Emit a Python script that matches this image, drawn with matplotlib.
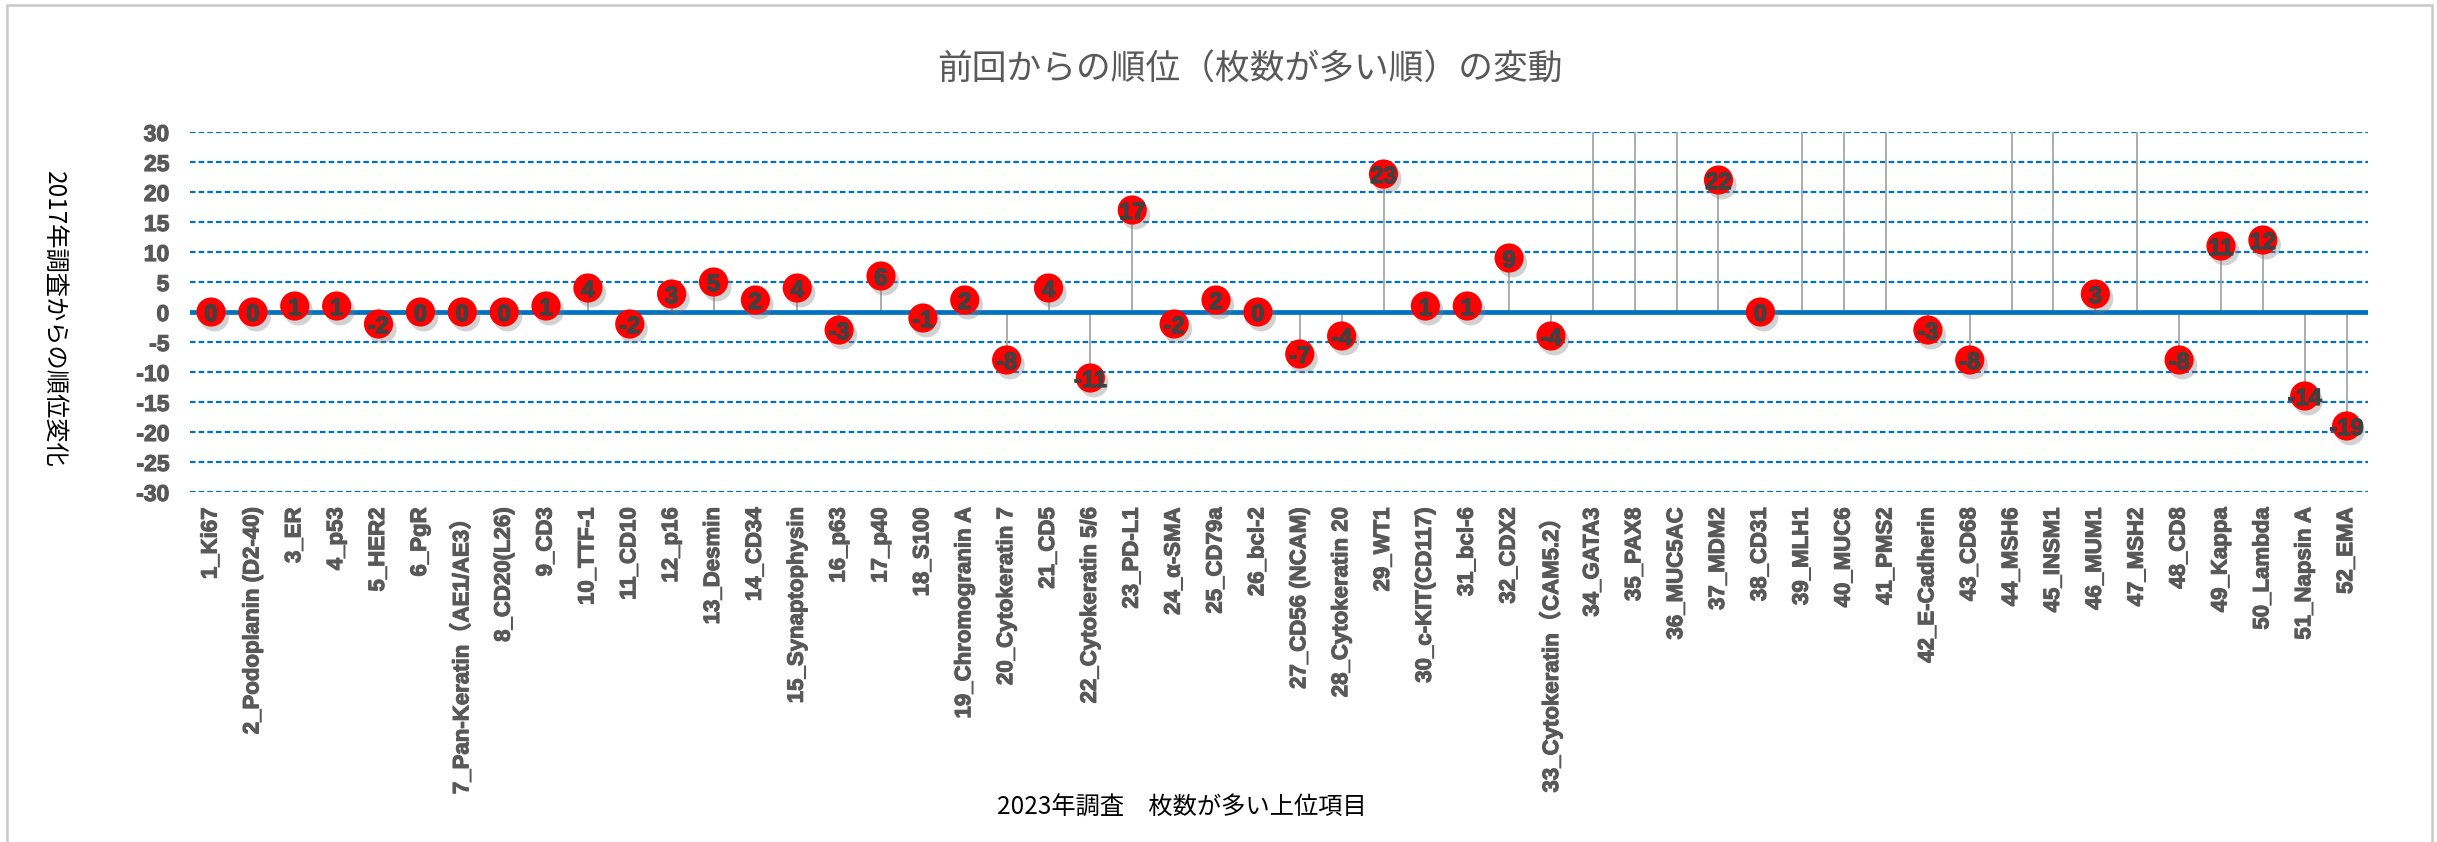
import matplotlib
matplotlib.use("Agg")
import matplotlib.pyplot as plt
import matplotlib.patheffects as pe
from matplotlib.patches import Rectangle

plt.rcParams['font.family'] = ['Liberation Sans', 'Noto Sans CJK JP', 'DejaVu Sans']

# 2023 top items and rank change vs 2017 (None = not in 2017 survey)
items = [
    "1_Ki67", "2_Podoplanin (D2-40)", "3_ER", "4_p53", "5_HER2", "6_PgR",
    "7_Pan-Keratin（AE1/AE3）", "8_CD20(L26)", "9_CD3", "10_TTF-1", "11_CD10",
    "12_p16", "13_Desmin", "14_CD34", "15_Synaptophysin", "16_p63", "17_p40",
    "18_S100", "19_Chromogranin A", "20_Cytokeratin 7", "21_CD5",
    "22_Cytokeratin 5/6", "23_PD-L1", "24_α-SMA", "25_CD79a", "26_bcl-2",
    "27_CD56 (NCAM)", "28_Cytokeratin 20", "29_WT1", "30_c-KIT(CD117)",
    "31_bcl-6", "32_CDX2", "33_Cytokeratin（CAM5.2）", "34_GATA3", "35_PAX8",
    "36_MUC5AC", "37_MDM2", "38_CD31", "39_MLH1", "40_MUC6", "41_PMS2",
    "42_E-Cadherin", "43_CD68", "44_MSH6", "45_INSM1", "46_MUM1", "47_MSH2",
    "48_CD8", "49_Kappa", "50_Lambda", "51_Napsin A", "52_EMA",
]
rank_change = [
    0, 0, 1, 1, -2, 0, 0, 0, 1, 4, -2, 3, 5, 2, 4, -3, 6, -1, 2, -8, 4, -11,
    17, -2, 2, 0, -7, -4, 23, 1, 1, 9, -4, None, None, None, 22, 0, None, None,
    None, -3, -8, None, None, 3, None, -8, 11, 12, -14, -19,
]
yticks = list(range(-30, 31, 5))

blue = '#0070C0'
gray = '#595959'

fig = plt.figure(figsize=(24.37, 8.42), dpi=100)
ax = fig.add_axes([0.078, 0.4157, 0.8935, 0.4275])

x = list(range(len(items)))
ymax = max(yticks)

for xi, v in zip(x, rank_change):
    top = ymax if v is None else v
    ax.vlines(xi, 0, top, color='#A6A6A6', lw=1.3, zorder=2)

for t in yticks:
    if t != 0:
        ax.axhline(t, color=blue, lw=1.6, linestyle=(0, (2.5, 1.4)), zorder=1)
ax.axhline(0, color=blue, lw=3.4, zorder=3)

px = [xi for xi, v in zip(x, rank_change) if v is not None]
py = [v for v in rank_change if v is not None]
ax.scatter(px, py, s=21 ** 2, color='#FF0000', edgecolors='none', zorder=4,
           path_effects=[pe.SimplePatchShadow(offset=(2.5, -3.5), shadow_rgbFace='#7F7F7F', alpha=0.35),
                         pe.Normal()])
thick = [pe.withStroke(linewidth=0.9, foreground='#404040')]
for xi, v in zip(px, py):
    ax.text(xi, v, str(v), ha='center', va='center_baseline', fontsize=17,
            fontweight='bold', color='#404040', zorder=5, path_effects=thick)

ax.set_xlim(-0.5, len(items) - 0.5)
ax.set_ylim(min(yticks), ymax)
ax.set_yticks(yticks)
ax.set_yticklabels([str(t) for t in yticks], fontsize=16.5, fontweight='bold', color=gray)
ax.set_xticks(x)
ax.set_xticklabels(items, rotation=90, fontsize=16, fontweight='bold', color=gray,
                   va='top', ha='center')
for lab in ax.get_xticklabels() + ax.get_yticklabels():
    lab.set_path_effects([pe.withStroke(linewidth=0.8, foreground=gray)])
ax.tick_params(axis='y', length=0, pad=15)
ax.tick_params(axis='x', length=0, pad=11)
for s in ax.spines.values():
    s.set_visible(False)

fig.text(0.513, 0.917, "前回からの順位（枚数が多い順）の変動", ha='center', va='center',
         fontsize=25, color=gray, family=['Noto Sans CJK JP'])
fig.text(0.485, 0.04, "2023年調査　枚数が多い上位項目", ha='center', va='center',
         fontsize=17.5, color='black', family=['Noto Sans CJK JP'])
fig.text(0.022, 0.621, "2017年調査からの順位変化", ha='center', va='center', rotation=270,
         fontsize=17.5, color='black', family=['Noto Sans CJK JP'])

fig.patches.append(Rectangle((7 / 2437, -0.05), (2432 - 7) / 2437, 1.05 - 5 / 842,
                             transform=fig.transFigure, fill=False,
                             edgecolor='#C8C8C8', lw=1.8))

fig.savefig("out.png", dpi=100)
